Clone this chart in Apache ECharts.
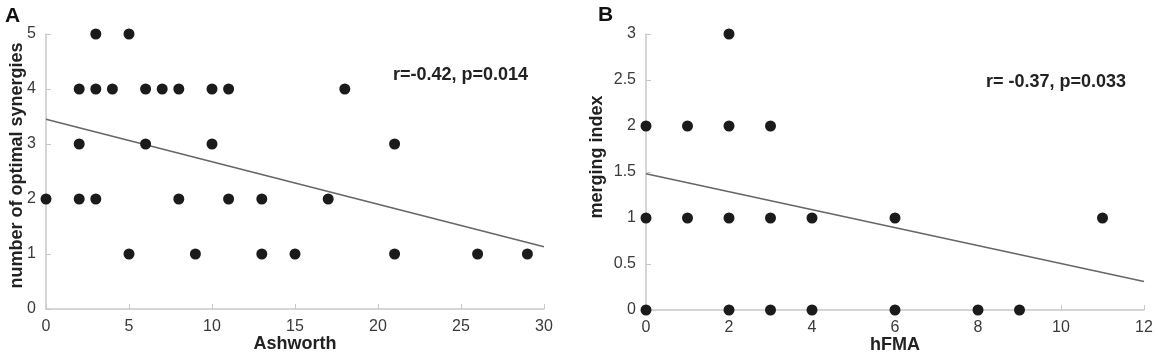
<!DOCTYPE html>
<html>
<head>
<meta charset="utf-8">
<script src="https://cdn.jsdelivr.net/npm/echarts@6/dist/echarts.min.js"></script>
<style>
  html, body { margin: 0; padding: 0; background: #fff; }
  #chart { width: 1158px; height: 355px; }
</style>
</head>
<body>
<div id="chart"></div>
<script>
// panel A: Ashworth vs number of optimal synergies
const ashworth = [3, 5, 2, 3, 4, 6, 7, 8, 10, 11, 18, 2, 6, 10, 21, 0, 2, 3, 8, 11, 13, 17, 5, 9, 13, 15, 21, 26, 29];
const synergies = [5, 5, 4, 4, 4, 4, 4, 4, 4, 4, 4, 3, 3, 3, 3, 2, 2, 2, 2, 2, 2, 2, 1, 1, 1, 1, 1, 1, 1];
const fitA = [[0, 3.45], [30, 1.13]];

// panel B: hFMA vs merging index
const hfma = [2, 0, 1, 2, 3, 0, 1, 2, 3, 4, 6, 11, 0, 2, 3, 4, 6, 8, 9];
const merging = [3, 2, 2, 2, 2, 1, 1, 1, 1, 1, 1, 1, 0, 0, 0, 0, 0, 0, 0];
const fitB = [[0, 1.48], [12, 0.31]];

const font = "'Liberation Sans', Arial, sans-serif";
const dotColor = "#1b1b1b";
const lineColor = "#666666";

const pairs = (xs, ys) => xs.map((x, i) => [x, ys[i]]);

const axisCommon = {
  axisLine: { show: true, lineStyle: { color: "#c8c8c8", width: 1.5 } },
  axisTick: { show: true, inside: true, length: 5, lineStyle: { color: "#c8c8c8" } },
  splitLine: { show: false },
  axisLabel: { color: "#3a3a3a", fontSize: 16, fontFamily: font, margin: 10 },
  nameLocation: "middle",
  nameMoveOverlap: false,
  nameTextStyle: { color: "#222", fontSize: 18, fontWeight: "bold", fontFamily: font },
};

const chart = echarts.init(document.getElementById("chart"));
chart.setOption({
  animation: false,
  textStyle: { fontFamily: font },
  grid: [
    { left: 46, right: 614, top: 34, bottom: 46, containLabel: false, outerBoundsMode: "none" },
    { left: 646, right: 14, top: 34, bottom: 45, containLabel: false, outerBoundsMode: "none" },
  ],
  xAxis: [
    { ...axisCommon, gridIndex: 0, type: "value", min: 0, max: 30, interval: 5, name: "Ashworth", nameGap: 26 },
    { ...axisCommon, gridIndex: 1, type: "value", min: 0, max: 12, interval: 2, name: "hFMA", nameGap: 26 },
  ],
  yAxis: [
    {
      ...axisCommon, gridIndex: 0, type: "value", min: 0, max: 5, interval: 1,
      name: "number of optimal synergies", nameGap: 20,
      nameTextStyle: { ...axisCommon.nameTextStyle, padding: [0, 0, 0, 12] },
    },
    {
      ...axisCommon, gridIndex: 1, type: "value", min: 0, max: 3, interval: 0.5,
      name: "merging index", nameGap: 40,
      nameTextStyle: { ...axisCommon.nameTextStyle, padding: [0, 0, 0, 30] },
    },
  ],
  graphic: [
    { type: "text", left: 5, top: 6, style: { text: "A", font: "bold 21px " + font, fill: "#111" } },
    { type: "text", left: 598, top: 5, style: { text: "B", font: "bold 21px " + font, fill: "#111" } },
    { type: "text", left: 393, top: 66, style: { text: "r=-0.42, p=0.014", font: "bold 18px " + font, fill: "#222" } },
    { type: "text", left: 986, top: 73, style: { text: "r= -0.37, p=0.033", font: "bold 18px " + font, fill: "#222" } },
  ],
  series: [
    {
      type: "line", xAxisIndex: 0, yAxisIndex: 0, data: fitA, symbol: "none",
      lineStyle: { color: lineColor, width: 1.6 }, z: 1,
    },
    {
      type: "scatter", xAxisIndex: 0, yAxisIndex: 0, data: pairs(ashworth, synergies),
      symbolSize: 11, itemStyle: { color: dotColor, opacity: 1 }, clip: false, z: 2,
    },
    {
      type: "line", xAxisIndex: 1, yAxisIndex: 1, data: fitB, symbol: "none",
      lineStyle: { color: lineColor, width: 1.6 }, z: 1,
    },
    {
      type: "scatter", xAxisIndex: 1, yAxisIndex: 1, data: pairs(hfma, merging),
      symbolSize: 11, itemStyle: { color: dotColor, opacity: 1 }, clip: false, z: 2,
    },
  ],
});
</script>
</body>
</html>
